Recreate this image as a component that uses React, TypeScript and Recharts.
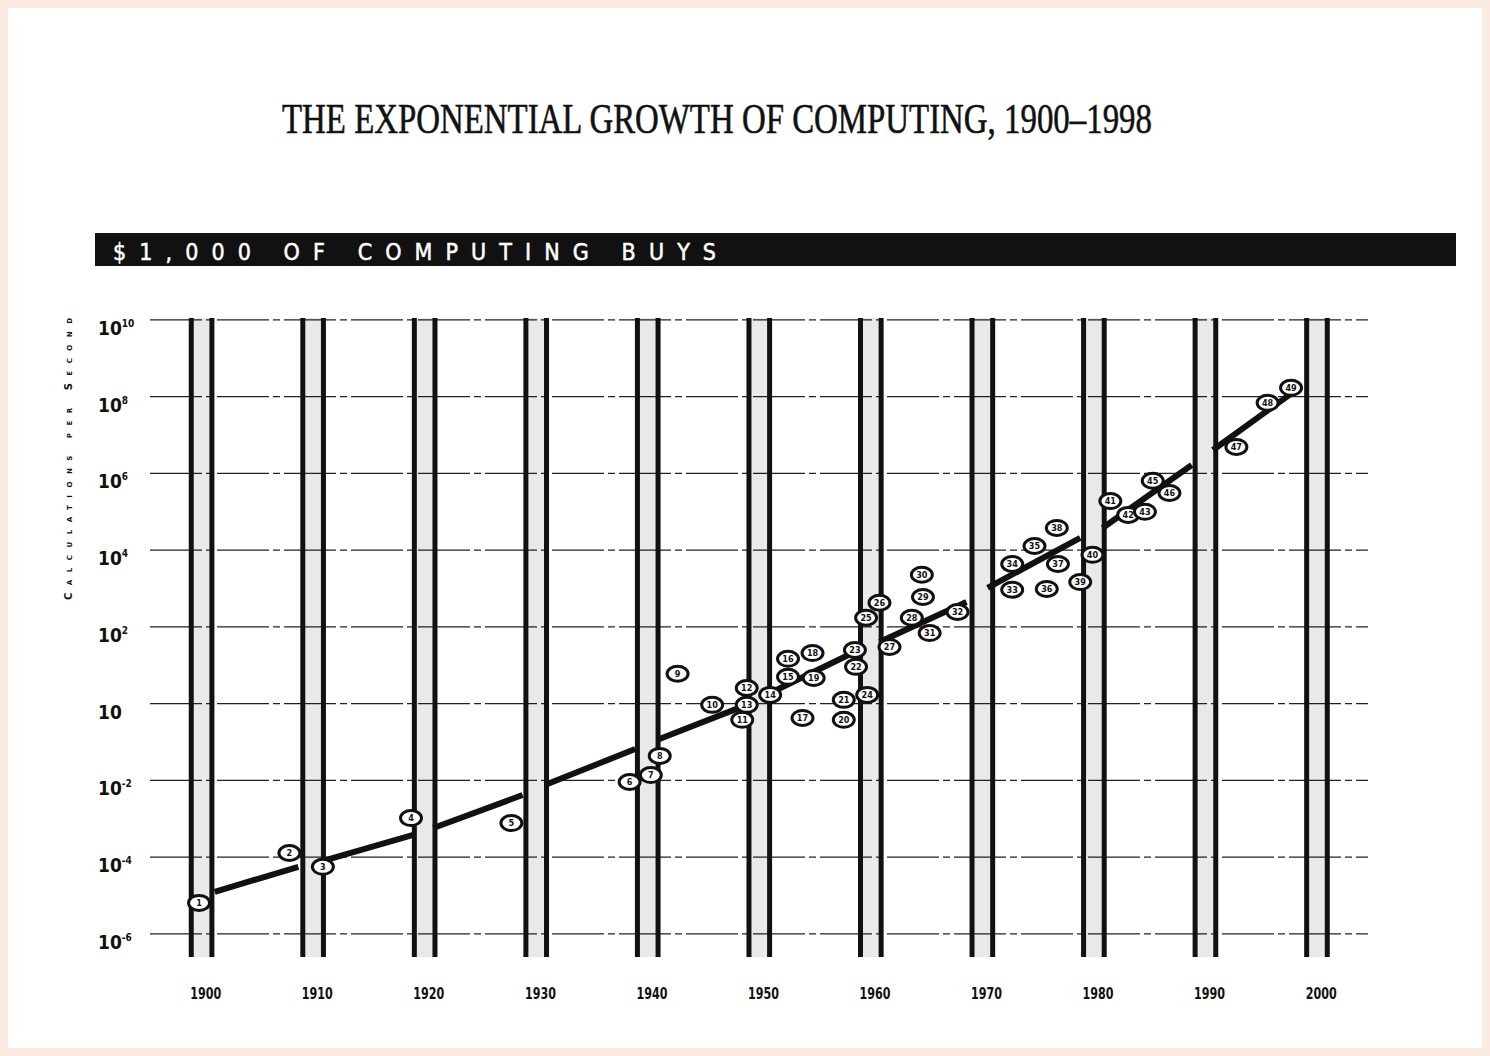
import React from "react";
import {
  ComposedChart,
  Line,
  ReferenceArea,
  ReferenceLine,
  Scatter,
  XAxis,
  YAxis,
} from "recharts";

// decades marked by the double vertical bars and the x labels
const decades = [1900, 1910, 1920, 1930, 1940, 1950, 1960, 1970, 1980, 1990, 2000];

// y axis: log10 of calculations per second
const yExponents = [-6, -4, -2, 0, 2, 4, 6, 8, 10];
const ySuperscripts = ["-6", "-4", "-2", "", "2", "4", "6", "8", "10"];

// numbered machines (id, year, log10 calculations per second)
const pointIds = [
  1, 2, 3, 4, 5, 6, 7, 8, 9, 10, 11, 12, 13, 14, 15, 16, 17, 18, 19, 20, 21, 22, 23, 24, 25,
  26, 27, 28, 29, 30, 31, 32, 33, 34, 35, 36, 37, 38, 39, 40, 41, 42, 43, 45, 46, 47, 48, 49,
];
const pointYears = [
  1899.4, 1907.5, 1910.5, 1918.4, 1927.4, 1938.0, 1939.9, 1940.7, 1942.3, 1945.4, 1948.1,
  1948.5, 1948.5, 1950.6, 1952.2, 1952.2, 1953.5, 1954.4, 1954.5, 1957.2, 1957.2, 1958.3,
  1958.2, 1959.3, 1959.2, 1960.4, 1961.3, 1963.3, 1964.3, 1964.2, 1964.9, 1967.4, 1972.3,
  1972.3, 1974.3, 1975.4, 1976.4, 1976.3, 1978.4, 1979.5, 1981.1, 1982.7, 1984.2, 1984.9,
  1986.4, 1992.4, 1995.2, 1997.3,
];
const pointLogCps = [
  -5.19, -3.89, -4.25, -2.98, -3.11, -2.04, -1.86, -1.36, 0.78, -0.03, -0.42, 0.41, -0.03,
  0.23, 0.7, 1.17, -0.37, 1.32, 0.67, -0.42, 0.1, 0.96, 1.4, 0.23, 2.24, 2.63, 1.48, 2.24,
  2.78, 3.36, 1.84, 2.39, 2.97, 3.64, 4.11, 2.99, 3.64, 4.58, 3.17, 3.88, 5.28, 4.92, 5.0,
  5.81, 5.49, 6.69, 7.84, 8.23,
];

// trend line, one piece between each pair of bars
const trendYears = [
  [1900.8, 1908.3],
  [1910.2, 1918.6],
  [1920.4, 1928.4],
  [1930.4, 1938.5],
  [1940.5, 1948.5],
  [1950.6, 1958.4],
  [1960.4, 1968.2],
  [1970.1, 1978.4],
  [1980.4, 1988.4],
  [1990.3, 1997.5],
];
const trendLogCps = [
  [-4.9, -4.25],
  [-4.12, -3.42],
  [-3.24, -2.38],
  [-2.12, -1.18],
  [-0.94, -0.03],
  [0.28, 1.38],
  [1.61, 2.65],
  [3.02, 4.32],
  [4.58, 6.22],
  [6.61, 8.12],
];

const points = pointIds.map((id, i) => ({ id, year: pointYears[i], log: pointLogCps[i] }));
const trendSegments = trendYears.map((ys, i) =>
  ys.map((year, j) => ({ year, log: trendLogCps[i][j] }))
);

if (typeof document !== "undefined") {
  document.body.style.background = "#fcebe0";
}

const W = 1474;
const H = 1040;
const narrow = "'Liberation Sans Narrow', 'DejaVu Sans Condensed', 'Liberation Sans', sans-serif";

function XTick(props: any) {
  const { x, y, payload } = props;
  return (
    <text
      x={x}
      y={y + 34}
      textAnchor="middle"
      fontFamily={narrow}
      fontWeight={700}
      fontSize={16}
      fill="#111"
      textLength={31}
      lengthAdjust="spacingAndGlyphs"
    >
      {payload.value}
    </text>
  );
}

function YTick(props: any) {
  const { x, y, payload } = props;
  const idx = yExponents.indexOf(payload.value);
  const sup = ySuperscripts[idx];
  return (
    <text x={x - 44} y={y + 15} textAnchor="start" fontFamily={narrow} fontWeight={700} fontSize={19} fill="#111">
      <tspan>10</tspan>
      {sup ? (
        <tspan dy={-8} fontSize={10}>
          {sup}
        </tspan>
      ) : null}
    </text>
  );
}

function Marker(props: any) {
  const { cx, cy, payload } = props;
  if (cx == null || cy == null) return null;
  return (
    <g>
      <ellipse cx={cx} cy={cy} rx={10.5} ry={7.5} fill="#fff" stroke="#111" strokeWidth={3} />
      <text
        x={cx}
        y={cy + 3.2}
        textAnchor="middle"
        fontFamily={narrow}
        fontWeight={700}
        fontSize={9}
        fill="#111"
      >
        {payload.id}
      </text>
    </g>
  );
}

export default function App() {
  return (
    <div style={{ position: "relative", width: W, height: H, background: "#fff", overflow: "hidden" }}>
      <svg width={W} height={H} style={{ position: "absolute", left: 0, top: 0 }}>
        <text
          x={709}
          y={125}
          textAnchor="middle"
          fontFamily="'Liberation Serif', 'DejaVu Serif', serif"
          fontSize={43}
          fill="#111"
          stroke="#111"
          strokeWidth={0.6}
          textLength={870}
          lengthAdjust="spacingAndGlyphs"
        >
          THE EXPONENTIAL GROWTH OF COMPUTING, 1900–1998
        </text>
        <rect x={87} y={225} width={1361} height={33} fill="#111" />
        <text
          x={105}
          y={252}
          fontFamily={narrow}
          fontWeight={400}
          fontSize={23}
          fill="#fff"
          stroke="#fff"
          strokeWidth={0.5}
          textLength={603}
          lengthAdjust="spacing"
        >
          $1,000 OF COMPUTING BUYS
        </text>
        <text
          transform="translate(64,451) rotate(-90)"
          textAnchor="middle"
          fontFamily="'DejaVu Sans', sans-serif"
          fontWeight={700}
          fontSize={7}
          fill="#111"
          textLength={282}
          lengthAdjust="spacing"
        >
          <tspan fontSize={10}>C</tspan>ALCULATIONS PER <tspan fontSize={10}>S</tspan>ECOND
        </text>
      </svg>
      <div style={{ position: "absolute", left: 0, top: 0 }}>
        <ComposedChart width={W} height={H} margin={{ top: 310, right: 114, bottom: 51, left: 62 }}>
          <XAxis
            type="number"
            dataKey="year"
            domain={[1895, 2004.2]}
            ticks={decades}
            allowDataOverflow
            axisLine={false}
            tickLine={false}
            height={40}
            tick={<XTick />}
          />
          <YAxis
            type="number"
            dataKey="log"
            domain={[-6.6, 10.05]}
            ticks={yExponents}
            allowDataOverflow
            axisLine={false}
            tickLine={false}
            width={80}
            tick={<YTick />}
          />
          {yExponents.map((e) => (
            <ReferenceLine
              key={`g${e}`}
              y={e}
              stroke="#222"
              strokeWidth={1.2}
              strokeDasharray="52 4 7 4"
            />
          ))}
          {decades.map((d) => (
            <ReferenceArea
              key={`a${d}`}
              x1={d - 1.3}
              x2={d + 0.55}
              fill="#cfcfcf"
              fillOpacity={0.45}
              stroke="none"
            />
          ))}
          {decades.map((d) => (
            <ReferenceLine key={`l${d}`} x={d - 1.3} stroke="#111" strokeWidth={5} />
          ))}
          {decades.map((d) => (
            <ReferenceLine key={`r${d}`} x={d + 0.55} stroke="#111" strokeWidth={5} />
          ))}
          {trendSegments.map((seg, i) => (
            <Line
              key={`t${i}`}
              data={seg}
              dataKey="log"
              type="linear"
              stroke="#111"
              strokeWidth={6}
              dot={false}
              activeDot={false}
              isAnimationActive={false}
            />
          ))}
          <Scatter data={points} dataKey="log" shape={<Marker />} isAnimationActive={false} />
        </ComposedChart>
      </div>
    </div>
  );
}
